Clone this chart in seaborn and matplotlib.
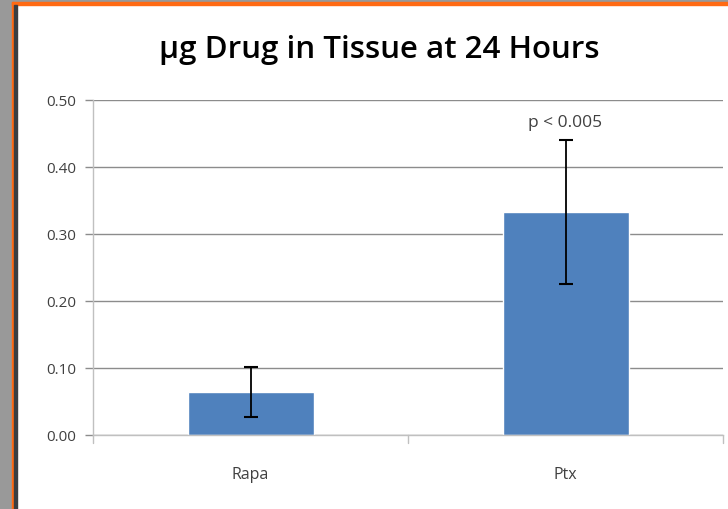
import matplotlib
matplotlib.use("Agg")
import matplotlib.pyplot as plt
import matplotlib.patches as mpatches
import seaborn as sns
import pandas as pd

# data
drugs = ["Rapa", "Ptx"]
ug_tissue = [0.064, 0.333]
ug_err = [0.037, 0.107]
p_note = "p < 0.005"
y_ticks = [0.0, 0.1, 0.2, 0.3, 0.4, 0.5]

df = pd.DataFrame({"drug": drugs, "ug": ug_tissue})

sns.set_style("white")
plt.rcParams["font.family"] = ["Open Sans", "DejaVu Sans"]

W, H = 728, 510
fig = plt.figure(figsize=(W / 100, H / 100), dpi=100)
ax = fig.add_axes([93 / W, 74 / H, (723 - 93) / W, (436 - 101) / H])

sns.barplot(data=df, x="drug", y="ug", color="#4f81bd", width=0.4,
            saturation=1, errorbar=None, ax=ax)
ax.errorbar(range(len(drugs)), ug_tissue, yerr=ug_err, fmt="none",
            ecolor="black", elinewidth=1.3, capsize=5, capthick=1.5, zorder=5)

ax.set_ylim(0, 0.5)
ax.set_xlim(-0.5, 1.5)
ax.set_yticks(y_ticks)
ax.set_yticklabels([f"{t:.2f}" for t in y_ticks], color="#404040", fontsize=11)
ax.set_xticks([0, 1])
ax.set_xticklabels(drugs, color="#404040", fontsize=11.5)
ax.yaxis.grid(True, color="#8c8c8c", linewidth=1.0)
ax.set_axisbelow(True)
ax.set_xlabel("")
ax.set_ylabel("")

for s in ["top", "right"]:
    ax.spines[s].set_visible(False)
for s in ["left", "bottom"]:
    ax.spines[s].set_color("#c0c0c0")
    ax.spines[s].set_linewidth(1.0)

# Excel-like ticks: y ticks outward, x ticks at category boundaries
ax.tick_params(axis="y", length=6, color="#8c8c8c", width=1, pad=6, left=True)
ax.tick_params(axis="x", length=0, pad=22)
for xb in [-0.5, 0.5, 1.5]:
    ax.plot([xb, xb], [0, -0.012], color="#c0c0c0", lw=1, clip_on=False)

ax.text(1, ug_tissue[1] + ug_err[1] + 0.015, p_note, ha="center", va="bottom",
        fontsize=12.5, color="#404040")

fig.text(379 / W, 1 - 50 / H, "µg Drug in Tissue at 24 Hours", ha="center",
         va="center", fontsize=22.5, fontweight="semibold", color="black")

# frame of the slide capture
fig.patches.append(mpatches.Rectangle((0, 0), 12 / W, 1, transform=fig.transFigure,
                                      color="#999999", zorder=0))
fig.patches.append(mpatches.Rectangle((0, 1 - 3 / H), 1, 3 / H, transform=fig.transFigure,
                                      color="#999999", zorder=0))
fig.patches.append(mpatches.Rectangle((12 / W, 0), 2 / W, 1 - 3 / H, transform=fig.transFigure,
                                      color="#ff6a13", zorder=1))
fig.patches.append(mpatches.Rectangle((12 / W, 1 - 6 / H), 1, 3 / H, transform=fig.transFigure,
                                      color="#ff6a13", zorder=1))
fig.patches.append(mpatches.Rectangle((14 / W, 0), 2.5 / W, 1 - 6 / H, transform=fig.transFigure,
                                      color="#3a3e42", zorder=1))

fig.savefig("out.png", dpi=100)
